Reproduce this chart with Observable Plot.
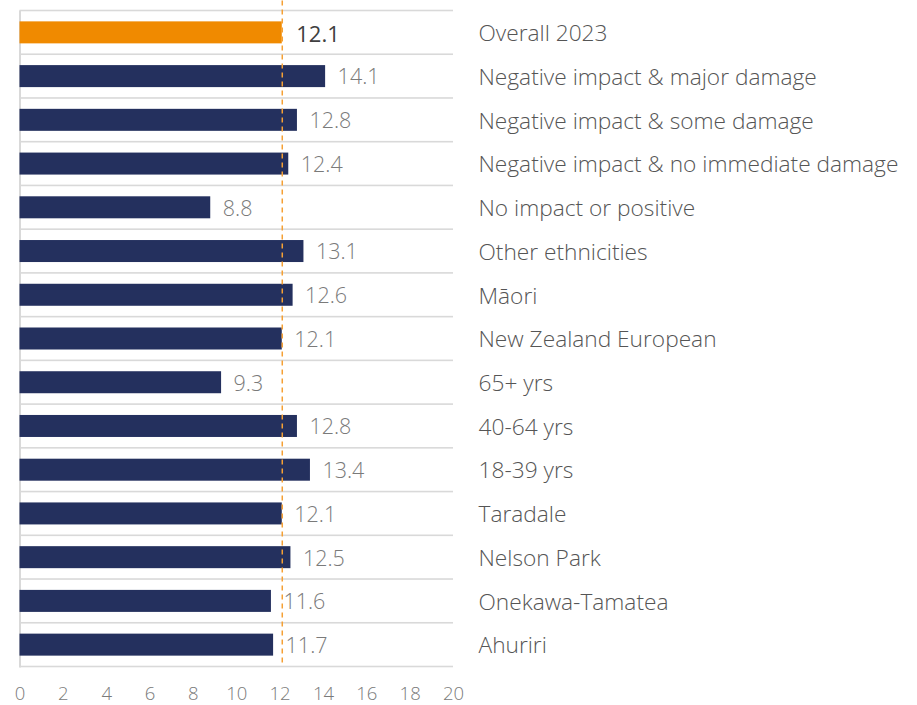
<!DOCTYPE html>
<html>
<head>
<meta charset="utf-8">
<script src="https://cdn.jsdelivr.net/npm/d3@7"></script>
<script src="https://cdn.jsdelivr.net/npm/@observablehq/plot@0.6"></script>
<style>
  html, body { margin: 0; padding: 0; background: #fff; }
  #chart svg { display: block; }
</style>
</head>
<body>
<div id="chart"></div>
<script>
const categories = [
  "Overall 2023",
  "Negative impact & major damage",
  "Negative impact & some damage",
  "Negative impact & no immediate damage",
  "No impact or positive",
  "Other ethnicities",
  "Māori",
  "New Zealand European",
  "65+ yrs",
  "40-64 yrs",
  "18-39 yrs",
  "Taradale",
  "Nelson Park",
  "Onekawa-Tamatea",
  "Ahuriri"
];
const values = [12.1, 14.1, 12.8, 12.4, 8.8, 13.1, 12.6, 12.1, 9.3, 12.8, 13.4, 12.1, 12.5, 11.6, 11.7];
const overallValue = 12.1;
const xTicks = [0, 2, 4, 6, 8, 10, 12, 14, 16, 18, 20];

const data = categories.map((c, i) => ({category: c, value: values[i], overall: i === 0}));

const W = 917, H = 705;
const mTop = 10.5, mBottom = 38.5, mLeft = 19.5, mRight = 464;
const rowH = (H - mTop - mBottom) / categories.length;
const barH = 22;
const inset = (rowH - barH) / 2;
const gridW = 1.6;

const chart = Plot.plot({
  width: W,
  height: H,
  marginTop: mTop,
  marginBottom: mBottom,
  marginLeft: mLeft,
  marginRight: mRight,
  style: {fontFamily: "'Open Sans', sans-serif", background: "#fff"},
  x: {domain: [0, 20], round: false},
  y: {domain: categories, padding: 0, round: false},
  marks: [
    // horizontal grid lines at row boundaries
    Plot.barX(categories, {x1: 0, x2: 20, y: d => d, fill: "#d9d9d9", insetTop: -gridW / 2, insetBottom: rowH - gridW / 2}),
    Plot.barX(categories.slice(-1), {x1: 0, x2: 20, y: d => d, fill: "#d9d9d9", insetTop: rowH - gridW / 2, insetBottom: -gridW / 2}),
    // left axis line
    Plot.ruleX([0], {stroke: "#d9d9d9", strokeWidth: 2, insetBottom: -1}),
    // bars
    Plot.barX(data, {
      x: "value", y: "category",
      fill: d => d.overall ? "#f08a00" : "#24305e",
      insetTop: inset, insetBottom: inset
    }),
    // reference dashed line
    Plot.ruleX([overallValue], {stroke: "#f5a035", strokeWidth: 1.5, strokeDasharray: "5,4", insetTop: -10, insetBottom: 3}),
    // value labels
    Plot.text(data.filter(d => !d.overall), {
      x: "value", y: "category", text: d => d.value.toFixed(1),
      textAnchor: "start", dx: 12, dy: 1, fontSize: 21.5, fontWeight: 300, fill: "#7a7a7a"
    }),
    Plot.text(data.filter(d => d.overall), {
      x: "value", y: "category", text: d => d.value.toFixed(1),
      textAnchor: "start", dx: 14, dy: 2.5, fontSize: 22, fill: "#404040"
    }),
    // category labels on the right
    Plot.axisY({
      anchor: "right", tickSize: 0, tickPadding: 25, textAnchor: "start",
      fontSize: 22.7, fontWeight: 300, fill: "#555555", label: null, dy: 1
    }),
    // x axis tick labels
    Plot.axisX({
      ticks: xTicks, tickSize: 0, tickPadding: 20, fontSize: 18.5, fontWeight: 300,
      fill: "#7a7a7a", label: null, tickFormat: d => String(d)
    })
  ]
});

document.getElementById("chart").appendChild(chart);
</script>
</body>
</html>
